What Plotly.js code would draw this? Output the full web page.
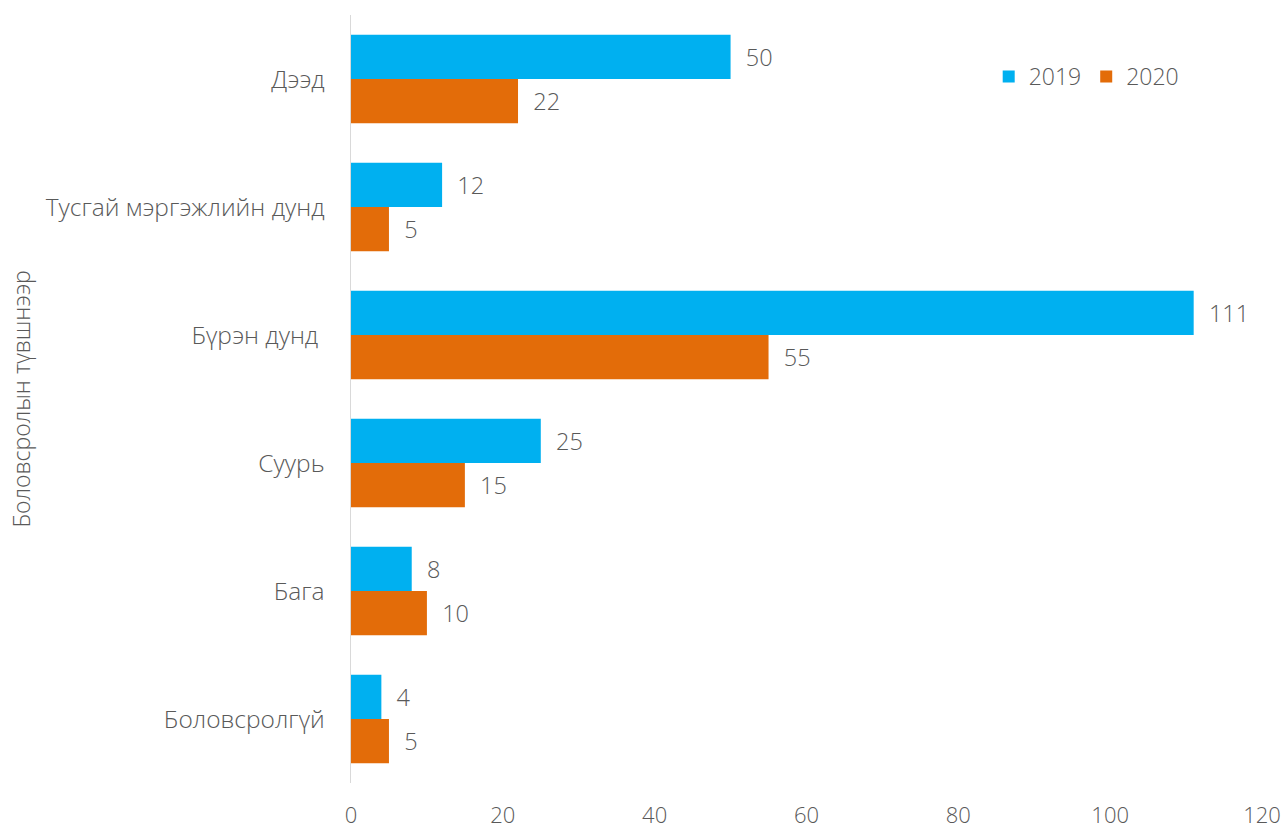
<!DOCTYPE html>
<html>
<head>
<meta charset="utf-8">
<script src="https://cdn.plot.ly/plotly-3.0.1.min.js"></script>
<style>html,body{margin:0;padding:0;background:#fff;}#chart{width:1284px;height:828px;}</style>
</head>
<body>
<div id="chart"></div>
<script>
const categories = ["Дээд", "Тусгай мэргэжлийн дунд", "Бүрэн дунд\u00a0", "Суурь", "Бага", "Боловсролгүй"];
const values2019 = [50, 12, 111, 25, 8, 4];
const values2020 = [22, 5, 55, 15, 10, 5];
const seriesNames = ["2019", "2020"];
const xTicks = [0, 20, 40, 60, 80, 100, 120];

const FONT = "Open Sans, Liberation Sans, sans-serif";
const GREY = "#595959";
const W = 300;

const traces = [
  {type: "bar", orientation: "h", name: seriesNames[0], y: categories, x: values2019,
   marker: {color: "#00B0F0"}, text: values2019.map(v => "\u00a0\u00a0" + v), textposition: "outside",
   textfont: {family: FONT, size: 23.5, color: GREY, weight: W}, cliponaxis: false, hoverinfo: "x+y"},
  {type: "bar", orientation: "h", name: seriesNames[1], y: categories, x: values2020,
   marker: {color: "#E36C09"}, text: values2020.map(v => "\u00a0\u00a0" + v), textposition: "outside",
   textfont: {family: FONT, size: 23.5, color: GREY, weight: W}, cliponaxis: false, hoverinfo: "x+y"}
];

const layout = {
  width: 1284, height: 828,
  margin: {l: 351, r: 22, t: 15, b: 45},
  paper_bgcolor: "#fff", plot_bgcolor: "#fff",
  font: {family: FONT, size: 23, color: GREY, weight: W},
  barmode: "group", bargap: 0.31, bargroupgap: 0,
  showlegend: true,
  legend: {orientation: "h", x: 0.7, y: 0.92, xanchor: "left", yanchor: "middle",
           font: {family: FONT, size: 23, color: GREY, weight: W}, traceorder: "normal", bgcolor: "rgba(0,0,0,0)"},
  xaxis: {range: [0, 120], tickvals: xTicks, ticktext: xTicks.map(String), showgrid: false, zeroline: false,
          showline: false, ticks: "outside", ticklen: 13, tickcolor: "rgba(0,0,0,0)",
          tickfont: {family: FONT, size: 22, color: GREY, weight: W}, fixedrange: true},
  yaxis: {type: "category", autorange: "reversed", showgrid: false, zeroline: false,
          showline: true, linecolor: "#D9D9D9", linewidth: 1.5, ticks: "",
          ticklabelstandoff: 20, tickfont: {family: FONT, size: 24.5, color: GREY, weight: W},
          title: {text: "Боловсролын түвшнээр", font: {family: FONT, size: 23, color: GREY, weight: W}, standoff: 8},
          fixedrange: true}
};

Plotly.newPlot("chart", traces, layout, {displayModeBar: false, staticPlot: true});
</script>
</body>
</html>
